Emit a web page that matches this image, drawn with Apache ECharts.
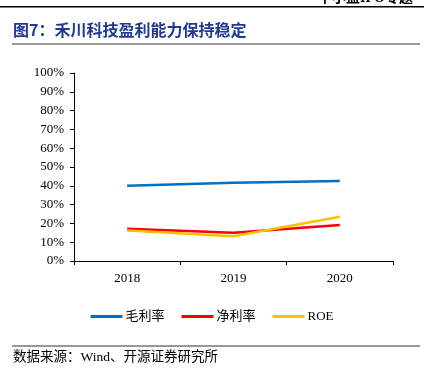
<!DOCTYPE html>
<html><head><meta charset="utf-8">
<script src="https://cdn.jsdelivr.net/npm/echarts@6/dist/echarts.min.js"></script>
<style>html,body{margin:0;padding:0;background:#fff}#c{width:424px;height:381px}</style>
</head><body><div id="c"></div>
<script>
var categories = ['2018', '2019', '2020'];
var grossMargin = [40.0, 41.6, 42.6];
var netMargin = [17.2, 15.0, 19.2];
var roe = [16.2, 13.2, 23.5];
var yTicks = ['0%','10%','20%','30%','40%','50%','60%','70%','80%','90%','100%'];

var chart = echarts.init(document.getElementById('c'));
var serif = '"Liberation Serif","Times New Roman",serif';
var cjk = '"Liberation Serif","Noto Sans CJK SC",serif';
chart.setOption({
  animation: false,
  backgroundColor: '#fff',
  graphic: [
    {type:'text', right: 11, top: -9, style:{text:'中小盘IPO专题', font:'bold 14px "Liberation Serif","Noto Sans CJK SC"', fill:'#000'}},
    {type:'rect', shape:{x:0, y:6, width:424, height:1.5}, style:{fill:'#000'}},
    {type:'text', left: 13, top: 22, style:{text:'图7：禾川科技盈利能力保持稳定', font:'bold 16px "Noto Sans CJK SC"', fill:'#1F3A93'}},
    {type:'rect', shape:{x:12, y:43, width:408, height:2}, style:{fill:'#9a9a9a'}},
    {type:'rect', shape:{x:12, y:345.5, width:408, height:1}, style:{fill:'#333'}},
    {type:'text', left: 13, top: 351, style:{text:'数据来源：Wind、开源证券研究所', font:'13.5px ' + cjk, fill:'#000'}}
  ],
  grid: {left: 74, right: 31, top: 73, bottom: 120},
  legend: {
    top: 305, left: 'center',
    itemWidth: 32, itemHeight: 3, itemGap: 17,
    icon: 'rect',
    textStyle: {fontFamily: cjk, fontSize: 13, color: '#000', padding:[0,0,0,-2]},
    data: ['毛利率','净利率','ROE']
  },
  xAxis: {
    type: 'category', data: categories, boundaryGap: true,
    axisLine: {lineStyle: {color: '#000', width: 1}},
    axisTick: {show: true, inside: false, length: 4, lineStyle:{color:'#000'}},
    axisLabel: {fontFamily: serif, fontSize: 13, color: '#000', margin: 11}
  },
  yAxis: {
    type: 'value', min: 0, max: 100, interval: 10,
    axisLine: {show: true, lineStyle: {color: '#000', width: 1}},
    axisTick: {show: true, inside: false, length: 4, lineStyle:{color:'#000'}},
    splitLine: {show: false},
    axisLabel: {fontFamily: serif, fontSize: 13, color: '#000', margin: 10,
      formatter: function(v){ return yTicks[Math.round(v/10)]; }}
  },
  series: [
    {name:'毛利率', type:'line', data: grossMargin, symbol:'none', lineStyle:{color:'#0070C0', width:2.5}, itemStyle:{color:'#0070C0'}},
    {name:'净利率', type:'line', data: netMargin, symbol:'none', lineStyle:{color:'#FF0000', width:2.5}, itemStyle:{color:'#FF0000'}},
    {name:'ROE', type:'line', data: roe, symbol:'none', lineStyle:{color:'#FFC000', width:2.5}, itemStyle:{color:'#FFC000'}}
  ]
});
</script></body></html>
